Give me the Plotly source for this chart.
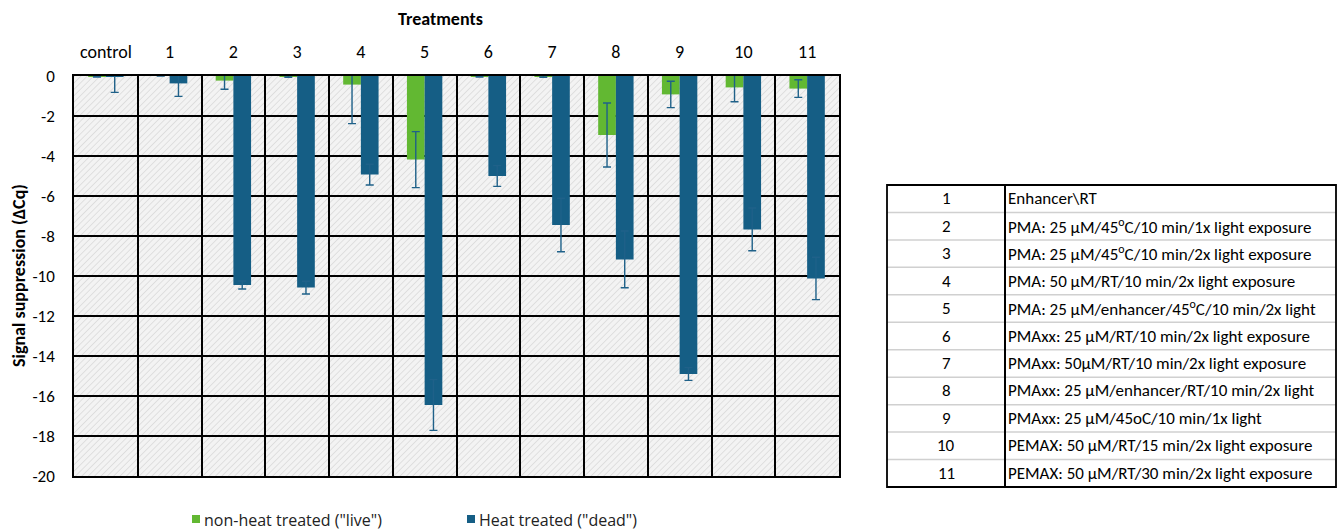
import base64
import plotly.graph_objects as go

# ---- data -------------------------------------------------------------
categories = ["control", "1", "2", "3", "4", "5", "6", "7", "8", "9", "10", "11"]

live_values = [-0.02, 0.0, -0.23, -0.03, -0.43, -4.18, -0.02, -0.03, -2.95, -0.92, -0.57, -0.63]
live_errors = [0.03, 0.0, 0.43, 0.04, 1.95, 1.40, 0.03, 0.04, 1.60, 0.66, 0.72, 0.44]

dead_values = [-0.02, -0.37, -10.45, -10.58, -4.93, -16.45, -5.00, -7.45, -9.17, -14.90, -7.67, -10.12]
dead_errors = [0.80, 0.65, 0.20, 0.32, 0.52, 1.27, 0.52, 1.34, 1.42, 0.32, 1.07, 1.06]

series_names = ['non-heat treated ("live")', 'Heat treated ("dead")']

y_ticks = list(range(0, -21, -2))

table_ids = ["1", "2", "3", "4", "5", "6", "7", "8", "9", "10", "11"]
table_desc = [
    "Enhancer\\RT",
    "PMA: 25 µM/45<sup>o</sup>C/10 min/1x light exposure",
    "PMA: 25 µM/45<sup>o</sup>C/10 min/2x light exposure",
    "PMA: 50 µM/RT/10 min/2x light exposure",
    "PMA: 25 µM/enhancer/45<sup>o</sup>C/10 min/2x light",
    "PMAxx: 25 µM/RT/10 min/2x light exposure",
    "PMAxx: 50µM/RT/10 min/2x light exposure",
    "PMAxx: 25 µM/enhancer/RT/10 min/2x light",
    "PMAxx: 25 µM/45oC/10 min/1x light",
    "PEMAX: 50 µM/RT/15 min/2x light exposure",
    "PEMAX: 50 µM/RT/30 min/2x light exposure",
]

# ---- geometry / style -------------------------------------------------
W, H = 1342, 531
L, R, T, B = 74, 503, 76, 55
PW, PH = W - L - R, H - T - B

GREEN = "#62B832"
BLUE = "#155E85"
ERR = "#1F6189"
FONT = "Carlito, Lato, sans-serif"


def px_x(px):
    return (px - L) / PW


def px_y(py):
    return (H - B - py) / PH


# hatched plot background as an inline svg image
hatch_svg = (
    f"<svg xmlns='http://www.w3.org/2000/svg' width='{PW}' height='{PH}'>"
    "<defs><pattern id='h' width='4.5' height='4.5' patternUnits='userSpaceOnUse' "
    "patternTransform='rotate(45)'>"
    "<rect width='4.5' height='4.5' fill='#f3f3f3'/>"
    "<line x1='0' y1='0' x2='0' y2='4.5' stroke='#d9d9d9' stroke-width='1.5'/>"
    "</pattern></defs><rect width='100%' height='100%' fill='url(#h)'/></svg>"
)
hatch_uri = "data:image/svg+xml;base64," + base64.b64encode(hatch_svg.encode()).decode()

fig = go.Figure()
fig.add_trace(go.Bar(
    x=categories, y=live_values, name=series_names[0],
    marker=dict(color=GREEN, line=dict(width=0)),
    error_y=dict(type="data", array=live_errors, color=ERR, thickness=1.4, width=4),
))
fig.add_trace(go.Bar(
    x=categories, y=dead_values, name=series_names[1],
    marker=dict(color=BLUE, line=dict(width=0)),
    error_y=dict(type="data", array=dead_errors, color=ERR, thickness=1.4, width=4),
))

shapes = []
annotations = []

# table of treatment descriptions
tx0, tx1, tdiv = 887, 1336, 1005
ty0, ty1 = 185, 487
row_h = (ty1 - ty0) / len(table_ids)
for i in range(1, len(table_ids)):
    yy = ty0 + i * row_h
    shapes.append(dict(type="line", xref="paper", yref="paper",
                       x0=px_x(tx0), x1=px_x(tx1), y0=px_y(yy), y1=px_y(yy),
                       line=dict(color="#d0d0d0", width=1.5)))
shapes.append(dict(type="line", xref="paper", yref="paper",
                   x0=px_x(tdiv), x1=px_x(tdiv), y0=px_y(ty0), y1=px_y(ty1),
                   line=dict(color="#000000", width=2)))
shapes.append(dict(type="rect", xref="paper", yref="paper",
                   x0=px_x(tx0), x1=px_x(tx1), y0=px_y(ty0), y1=px_y(ty1),
                   line=dict(color="#000000", width=1.8)))
for i, (tid, desc) in enumerate(zip(table_ids, table_desc)):
    yc = ty0 + (i + 0.5) * row_h
    annotations.append(dict(text=tid, xref="paper", yref="paper",
                            x=px_x((tx0 + tdiv) / 2), y=px_y(yc), showarrow=False,
                            xanchor="center", yanchor="middle",
                            font=dict(family=FONT, size=17, color="#000")))
    annotations.append(dict(text=desc, xref="paper", yref="paper",
                            x=px_x(tdiv + 1), y=px_y(yc), showarrow=False,
                            xanchor="left", yanchor="middle",
                            font=dict(family=FONT, size=17, color="#000")))

# legend: small colour squares followed by the series names
legend_items = [(192, GREEN, series_names[0]), (467, BLUE, series_names[1])]
for x0, col, name in legend_items:
    shapes.append(dict(type="rect", xref="paper", yref="paper",
                       x0=px_x(x0), x1=px_x(x0 + 8), y0=px_y(515), y1=px_y(523),
                       fillcolor=col, line=dict(width=0)))
    annotations.append(dict(text=name, xref="paper", yref="paper",
                            x=px_x(x0 + 10), y=px_y(520), showarrow=False,
                            xanchor="left", yanchor="middle",
                            font=dict(family="Open Sans, sans-serif", size=16, color="#222")))

# titles
annotations.append(dict(text="<b>Treatments</b>", xref="paper", yref="paper",
                        x=px_x(440), y=px_y(19), showarrow=False,
                        xanchor="center", yanchor="middle",
                        font=dict(family=FONT, size=18, color="#000")))
annotations.append(dict(text="<b>Signal suppression (ΔCq)</b>", xref="paper", yref="paper",
                        x=px_x(19), y=px_y(276), showarrow=False, textangle=-90,
                        xanchor="center", yanchor="middle",
                        font=dict(family=FONT, size=18, color="#000")))

fig.update_layout(
    width=W, height=H,
    margin=dict(l=L, r=R, t=T, b=B, autoexpand=False),
    paper_bgcolor="white",
    plot_bgcolor="rgba(0,0,0,0)",
    barmode="group", bargap=0.445, bargroupgap=0,
    font=dict(family=FONT, size=16, color="#000"),
    showlegend=False,
    images=[dict(source=hatch_uri, xref="x domain", yref="y domain", x=0, y=1,
                 sizex=1, sizey=1, xanchor="left", yanchor="top",
                 sizing="stretch", layer="below")],
    shapes=shapes,
    annotations=annotations,
)
fig.update_xaxes(
    side="top", type="category", tickson="boundaries",
    showgrid=True, gridcolor="#000000", gridwidth=1.5,
    showline=True, linecolor="#000000", linewidth=1.5, mirror=True,
    ticks="", ticklabelstandoff=9,
    tickfont=dict(family=FONT, size=18, color="#000"),
)
fig.update_yaxes(
    range=[-20, 0], tickvals=y_ticks, ticktext=[str(v) for v in y_ticks],
    showgrid=True, gridcolor="#000000", gridwidth=1.5, zeroline=False,
    showline=True, linecolor="#000000", linewidth=1.5, mirror=True,
    ticks="outside", ticklen=14, tickcolor="rgba(0,0,0,0)",
    tickfont=dict(family=FONT, size=17, color="#000"),
)

fig.write_html("out.html")
